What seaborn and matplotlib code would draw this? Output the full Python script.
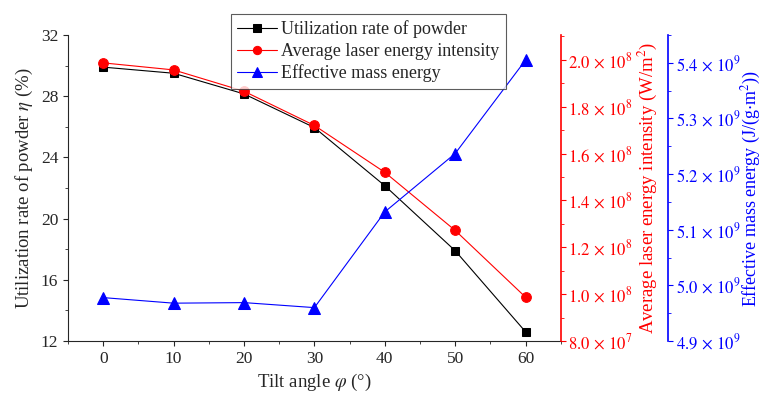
import pandas as pd
import seaborn as sns
import matplotlib.pyplot as plt
import numpy as np
from matplotlib.ticker import MultipleLocator, FuncFormatter

# values
tilt = [0, 10, 20, 30, 40, 50, 60]
utilization = [29.9, 29.5, 28.15, 25.95, 22.15, 17.9, 12.6]
laser_intensity = [1.987e8, 1.957e8, 1.866e8, 1.72e8, 1.52e8, 1.272e8, 0.987e8]
mass_energy = [4.978e9, 4.968e9, 4.969e9, 4.960e9, 5.132e9, 5.237e9, 5.405e9]

df = pd.DataFrame({'tilt': tilt, 'util': utilization,
                   'laser': laser_intensity, 'mass': mass_energy})

sns.set_style('ticks')
plt.rcParams['font.family'] = ['Liberation Serif', 'DejaVu Serif']
plt.rcParams['mathtext.fontset'] = 'stix'
plt.rcParams['xtick.direction'] = 'out'
plt.rcParams['ytick.direction'] = 'out'

fig = plt.figure(figsize=(7.64, 4), dpi=100)
ax = fig.add_axes([0.089, 0.1475, 0.645, 0.765])
ax2 = ax.twinx()
ax3 = ax.twinx()

sns.lineplot(data=df, x='tilt', y='util', ax=ax, color='black', lw=0.8,
             marker='s', markersize=6, markeredgecolor='black',
             label='Utilization rate of powder', legend=False)
sns.lineplot(data=df, x='tilt', y='laser', ax=ax2, color='red', lw=0.8,
             marker='o', markersize=7, markeredgecolor='red',
             label='Average laser energy intensity', legend=False)
sns.lineplot(data=df, x='tilt', y='mass', ax=ax3, color='blue', lw=0.8,
             marker='^', markersize=8, markeredgecolor='blue',
             label='Effective mass energy', legend=False)

# main axis
ax.set_xlim(-5, 65)
ax.set_ylim(12, 32)
ax.xaxis.set_major_locator(MultipleLocator(10))
ax.xaxis.set_minor_locator(MultipleLocator(5))
ax.yaxis.set_major_locator(MultipleLocator(4))
ax.yaxis.set_minor_locator(MultipleLocator(2))
ax.set_xlabel(r'Tilt angle $\varphi$ (°)', fontsize=13.5)
ax.set_ylabel(r'Utilization rate of powder $\eta$ (%)', fontsize=13.5)
ax.tick_params(labelsize=12.5)
ax.spines['top'].set_visible(False)
ax.spines['right'].set_visible(False)


def sci(v, pos):
    exp = int(np.floor(np.log10(v)))
    return r'$%.1f\,\times\,10^{%d}$' % (v / 10**exp, exp)


# red axis
ax2.set_ylim(0.8e8, 2.106e8)
ax2.yaxis.set_major_locator(MultipleLocator(0.2e8))
ax2.yaxis.set_minor_locator(MultipleLocator(0.1e8))
ax2.yaxis.set_major_formatter(FuncFormatter(sci))
ax2.set_ylabel(r'Average laser energy intensity (W/m$^2$)', color='red',
               fontsize=13.5, labelpad=2)
ax2.tick_params(axis='y', colors='red', which='both', labelsize=12, pad=2)
ax2.spines['right'].set_color('red')
ax2.spines['right'].set_linewidth(1.2)
for s in ['top', 'left', 'bottom']:
    ax2.spines[s].set_visible(False)

# blue axis
ax3.set_ylim(4.9e9, 5.45e9)
ax3.yaxis.set_major_locator(MultipleLocator(0.1e9))
ax3.yaxis.set_minor_locator(MultipleLocator(0.05e9))
ax3.yaxis.set_major_formatter(FuncFormatter(sci))
ax3.set_ylabel(r'Effective mass energy (J/(g$\cdot$m$^2$))', color='blue',
               fontsize=13, labelpad=0)
ax3.tick_params(axis='y', colors='blue', which='both', labelsize=12, pad=2)
ax3.spines['right'].set_position(('axes', 1.218))
ax3.spines['right'].set_color('blue')
ax3.spines['right'].set_linewidth(1.2)
for s in ['top', 'left', 'bottom']:
    ax3.spines[s].set_visible(False)

handles = []
labels = []
for a in [ax, ax2, ax3]:
    h, l = a.get_legend_handles_labels()
    handles += h
    labels += l
leg = fig.legend(handles, labels, loc='upper left', bbox_to_anchor=(0.295, 0.978),
                 fontsize=13, frameon=True, fancybox=False, edgecolor='#333333',
                 handlelength=2.2, handletextpad=0.25, labelspacing=0.25,
                 borderpad=0.35, borderaxespad=0.3, markerscale=0.85)
leg.get_frame().set_linewidth(0.8)

fig.savefig('out.png', dpi=100)
